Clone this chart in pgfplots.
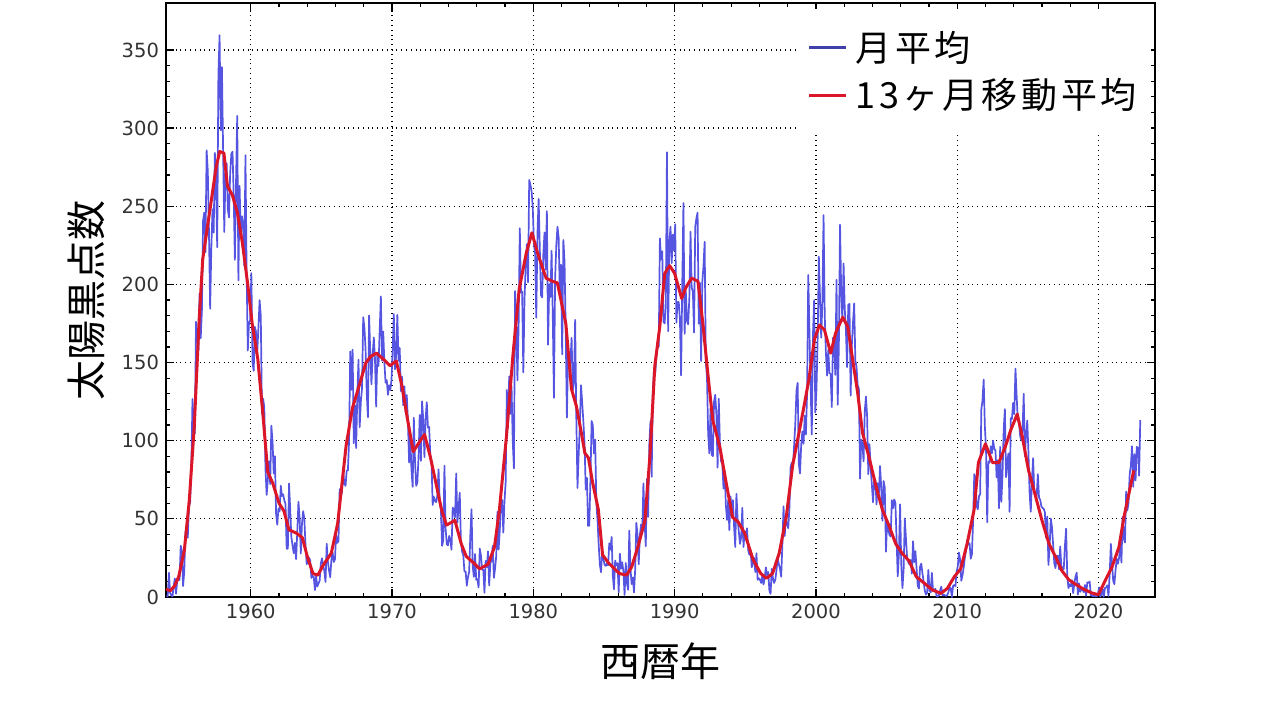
\documentclass[border=0pt]{standalone}
\usepackage{pgfplots}
\pgfplotsset{compat=1.18}
\usepackage{pgfplotstable}
\usepackage{fontspec}
\setmainfont{DejaVu Sans}
\newfontfamily\jp{Noto Sans CJK JP}
\newfontfamily\jpls[LetterSpace=10]{Noto Sans CJK JP}
\definecolor{mblue}{RGB}{85,85,225}
\definecolor{mred}{RGB}{218,22,40}
\definecolor{tickgray}{RGB}{50,50,50}

% monthly mean sunspot number, Jan 1954 - Dec 2022 (12 values per line)
\pgfplotstableread[row sep=\\, header=false]{
0.3\\0.7\\15.5\\2.6\\1.1\\0.3\\6.8\\11.9\\2.1\\9.9\\13.1\\10.8\\
32.8\\29.5\\7.0\\16.0\\41.0\\45.0\\37.9\\57.8\\60.6\\83.1\\126.7\\109.2\\
104.5\\176.1\\168.1\\157.2\\194.0\\165.6\\183.3\\240.8\\245.9\\220.5\\285.8\\272.8\\
233.6\\184.4\\222.9\\248.1\\233.1\\284.2\\265.1\\223.7\\333.9\\359.4\\298.6\\339.0\\
286.7\\233.5\\270.0\\277.5\\248.2\\242.8\\271.0\\283.5\\284.9\\257.0\\215.7\\265.6\\
307.8\\202.6\\263.0\\231.2\\243.6\\238.9\\211.8\\282.6\\205.6\\157.7\\175.6\\177.0\\
207.2\\150.1\\144.7\\172.8\\169.4\\156.0\\172.3\\189.9\\180.1\\117.2\\126.9\\121.2\\
82.0\\65.3\\75.0\\86.9\\72.2\\109.6\\99.4\\79.0\\90.1\\53.4\\46.2\\56.5\\
54.8\\71.2\\64.6\\65.7\\61.9\\59.5\\30.9\\30.9\\72.6\\55.9\\38.1\\32.9\\
28.0\\34.6\\24.2\\41.5\\60.9\\50.8\\27.8\\47.0\\54.9\\50.0\\33.1\\21.1\\
21.7\\25.1\\23.4\\12.2\\13.5\\12.9\\4.4\\13.2\\6.7\\8.6\\10.5\\21.4\\
24.8\\20.1\\16.6\\9.6\\34.1\\22.5\\16.9\\12.6\\23.8\\28.5\\22.4\\24.1\\
39.9\\34.6\\35.8\\69.0\\64.1\\67.5\\80.3\\72.5\\71.1\\81.0\\81.0\\99.7\\
157.0\\132.5\\158.3\\98.4\\122.5\\95.3\\129.6\\151.8\\108.7\\124.9\\133.5\\179.0\\
172.5\\158.5\\130.6\\115.0\\180.1\\156.2\\136.1\\154.8\\166.0\\152.5\\121.8\\155.5\\
147.8\\170.6\\192.3\\151.2\\169.9\\150.1\\137.1\\138.8\\129.3\\135.5\\132.4\\138.6\\
157.9\\181.0\\145.7\\155.1\\180.5\\151.2\\159.3\\131.7\\140.9\\122.6\\134.8\\118.2\\
129.3\\111.9\\86.0\\101.7\\81.4\\70.5\\114.7\\86.9\\71.1\\73.2\\89.5\\116.4\\
87.1\\125.2\\113.4\\89.5\\114.0\\124.6\\108.3\\108.8\\90.6\\86.8\\58.9\\64.1\\
61.5\\60.7\\65.1\\81.7\\60.0\\55.9\\32.7\\36.3\\84.0\\43.5\\33.8\\33.0\\
39.1\\36.8\\30.2\\57.1\\55.9\\51.0\\79.0\\47.6\\56.9\\66.7\\35.4\\29.0\\
26.8\\16.3\\16.3\\7.2\\12.7\\16.1\\39.9\\56.2\\19.7\\12.9\\27.5\\11.0\\
11.5\\6.1\\31.0\\26.6\\17.6\\17.3\\2.7\\23.2\\19.1\\29.2\\7.4\\21.7\\
23.2\\32.7\\12.3\\18.3\\26.3\\54.5\\30.3\\42.6\\62.3\\62.0\\41.2\\61.2\\
73.5\\132.5\\108.3\\141.2\\117.1\\134.7\\99.7\\82.3\\195.7\\177.1\\138.6\\173.7\\
235.9\\194.7\\195.4\\143.7\\190.3\\211.7\\225.7\\201.4\\266.8\\263.7\\259.6\\249.6\\
226.0\\219.5\\178.7\\232.4\\254.7\\222.7\\193.0\\191.7\\219.5\\233.2\\209.4\\246.9\\
161.4\\200.1\\191.9\\221.5\\180.5\\127.4\\203.6\\224.7\\236.9\\230.0\\194.7\\212.5\\
155.2\\228.4\\214.7\\170.3\\114.8\\154.1\\148.1\\150.2\\165.8\\132.2\\136.9\\177.3\\
115.2\\69.7\\90.8\\110.2\\135.5\\124.4\\112.3\\98.1\\68.7\\76.2\\45.5\\45.6\\
75.1\\112.6\\110.1\\91.9\\100.7\\60.8\\49.3\\33.6\\20.7\\15.8\\30.1\\24.6\\
20.6\\19.9\\21.5\\20.3\\34.4\\30.3\\38.4\\13.9\\4.9\\23.3\\20.3\\21.6\\
3.0\\27.8\\18.1\\22.2\\16.4\\1.3\\21.7\\8.9\\4.6\\42.5\\18.2\\8.2\\
12.5\\2.9\\17.6\\47.5\\39.6\\20.9\\39.6\\46.4\\40.7\\72.7\\47.9\\32.5\\
75.5\\51.2\\97.5\\112.6\\76.9\\130.3\\145.7\\142.8\\153.7\\160.1\\160.1\\229.4\\
216.1\\221.2\\176.1\\175.0\\185.6\\284.5\\170.0\\226.3\\236.8\\213.6\\231.8\\221.8\\
238.5\\175.5\\188.7\\188.7\\177.8\\141.8\\200.9\\252.0\\168.4\\195.7\\176.7\\174.4\\
191.0\\233.7\\198.0\\195.3\\169.2\\236.7\\242.3\\245.9\\174.8\\201.0\\150.9\\201.4\\
211.5\\227.2\\150.4\\140.7\\104.1\\91.9\\120.8\\90.9\\90.1\\125.1\\129.4\\116.5\\
82.7\\126.9\\97.3\\86.7\\85.5\\69.4\\80.7\\59.1\\49.3\\62.0\\42.7\\64.3\\
52\\62\\45\\32\\66\\50\\42\\34\\38\\57\\32\\42\\
38\\44\\30\\27\\30\\19\\22\\25\\16\\28\\11\\12\\
11\\9\\14\\8\\12\\19\\14\\16\\4\\2\\18\\12\\
9\\11\\17\\25\\21\\18\\13\\33\\58\\39\\50\\47\\
44\\57\\83\\86\\84\\97\\111\\132\\137\\85\\79\\97\\
106\\98\\116\\104\\130\\206\\171\\135\\104\\168\\190\\118\\
133.1\\165.7\\217.7\\191.5\\165.9\\188.0\\244.3\\180.5\\156.0\\141.6\\158.1\\143.3\\
142.6\\121.5\\165.8\\161.7\\142.1\\202.9\\123.0\\161.5\\238.2\\194.1\\176.6\\213.4\\
184.6\\170.2\\147.1\\186.9\\187.5\\128.8\\161.0\\175.6\\187.9\\151.2\\147.2\\135.3\\
133.5\\75.7\\100.7\\97.9\\86.8\\118.7\\128.3\\115.4\\78.5\\97.8\\82.9\\72.2\\
60.6\\74.6\\74.8\\59.2\\72.8\\66.5\\83.8\\69.7\\48.8\\74.2\\70.1\\28.9\\
48.1\\43.5\\39.6\\38.7\\61.9\\56.8\\62.4\\60.5\\37.2\\13.2\\27.5\\59.3\\
20.9\\5.7\\17.3\\50.3\\37.2\\24.5\\22.2\\20.8\\23.7\\14.9\\35.7\\22.3\\
29.3\\18.4\\7.2\\5.4\\19.5\\21.3\\15.1\\9.8\\4.0\\1.5\\2.8\\17.3\\
4.1\\2.9\\15.5\\3.6\\4.6\\5.2\\0.6\\0.3\\1.2\\4.2\\6.6\\1.0\\
1.3\\1.2\\0.6\\1.2\\2.9\\6.3\\5.5\\0.0\\7.1\\7.7\\6.9\\16.3\\
19.5\\28.5\\24.0\\10.4\\13.9\\18.8\\25.2\\29.6\\36.4\\33.6\\34.4\\24.5\\
27.3\\48.3\\78.6\\76.1\\58.2\\56.1\\64.5\\65.8\\120.1\\125.7\\139.1\\109.3\\
94.4\\47.8\\86.6\\85.9\\96.5\\92.0\\100.1\\94.8\\93.7\\76.5\\87.6\\56.8\\
96.1\\60.9\\78.3\\107.3\\120.2\\76.7\\86.2\\91.8\\54.5\\114.4\\113.9\\124.2\\
117.0\\146.1\\128.7\\112.5\\112.5\\102.9\\100.2\\106.9\\130.0\\90.0\\103.6\\112.9\\
93.0\\66.7\\54.5\\75.3\\88.8\\66.5\\65.8\\64.4\\78.6\\63.6\\62.2\\58.0\\
57.0\\56.4\\54.1\\37.9\\51.5\\20.5\\32.4\\50.2\\44.6\\33.4\\21.4\\18.5\\
26.1\\26.4\\17.7\\32.3\\18.9\\19.2\\17.8\\32.6\\43.7\\13.2\\5.7\\8.2\\
6.8\\10.7\\2.5\\8.9\\13.1\\15.6\\1.6\\8.7\\3.3\\4.9\\4.9\\3.1\\
7.7\\0.8\\9.4\\9.1\\9.9\\1.2\\0.9\\0.5\\1.1\\0.4\\0.5\\1.5\\
6.2\\0.2\\1.5\\5.2\\0.2\\5.8\\6.1\\7.5\\0.6\\14.4\\34.0\\21.8\\
10.4\\8.2\\17.2\\24.5\\21.2\\25.0\\34.3\\22.0\\51.3\\37.4\\34.8\\67.5\\
55.3\\59.9\\78.5\\84.1\\96.5\\70.5\\91.4\\74.6\\96.0\\95.5\\77.6\\113.1\\
}\monthly

% 13-month running mean
\pgfplotstableread{
x y
1954.0 5
1954.3 4
1954.6 7
1954.9 13
1955.3 30
1955.65 62
1956.0 109
1956.35 178
1956.6 216
1957.05 244
1957.55 275
1957.8 285
1958.1 284
1958.35 263
1958.7 257
1959.05 246
1959.4 227
1959.8 199
1960.1 175
1960.5 152
1960.85 118
1961.2 80
1961.55 73
1962.0 60
1962.35 55
1962.7 43
1963.2 41
1963.65 38
1964.0 26
1964.4 15
1964.75 14
1965.1 20
1965.7 28
1966.15 47
1966.75 97
1967.2 121
1967.7 136
1968.15 150
1968.5 154
1968.9 156
1969.4 152
1969.85 148
1970.3 151
1970.7 135
1971.05 116
1971.5 93
1971.85 98
1972.3 104
1972.7 90
1973.15 71
1973.5 56
1973.85 46
1974.45 49
1974.9 34
1975.25 26
1975.75 22
1976.2 18
1976.8 21
1977.25 32
1977.6 56
1978.1 103
1978.55 154
1979.0 197
1979.5 220
1979.9 233
1980.3 220
1980.9 204
1981.35 202
1981.7 201
1982.3 175
1982.7 133
1983.05 122
1983.4 105
1983.65 92
1983.9 89
1984.2 73
1984.6 56
1984.9 27
1985.3 22
1985.75 18
1986.1 15
1986.6 14
1986.95 19
1987.4 32
1987.9 49
1988.25 90
1988.6 148
1988.95 173
1989.3 207
1989.65 212
1990.0 207
1990.5 191
1990.8 198
1991.2 204
1991.65 202
1992.0 175
1992.35 143
1992.7 113
1993.2 96
1993.65 73
1994.1 51
1994.5 48
1994.95 41
1995.55 24
1996.1 15
1996.5 12
1996.93 15
1997.4 28
1997.9 51
1998.35 84
1998.8 105
1999.2 124
1999.5 139
1999.9 165
2000.25 174
2000.6 171
2001.05 156
2001.4 169
2001.9 179
2002.25 173
2002.6 152
2002.95 131
2003.3 105
2003.8 88
2004.25 71
2004.7 56
2005.2 45
2005.65 34
2006.1 28
2006.6 23
2007.1 13
2007.65 9
2008.25 4.5
2008.85 2.3
2009.3 5.5
2009.8 13
2010.25 18
2010.7 34
2011.2 56
2011.5 86
2012.0 98
2012.5 86
2012.95 86
2013.4 96
2013.8 107
2014.25 117
2014.6 103
2015.05 81
2015.5 66
2016.0 49
2016.5 34
2016.95 26
2017.4 17
2017.9 11
2018.4 8
2018.95 5
2019.55 2.5
2020.0 1.5
2020.5 11
2020.95 19
2021.45 32
2021.8 51
2022.15 66
2022.5 81
}\smoothed

\begin{document}
\begin{tikzpicture}
\begin{axis}[
  scale only axis, width=494.5pt, height=297pt,
  xmin=1954, xmax=2024, ymin=0, ymax=380,
  xtick={1960,1970,...,2020}, ytick={0,50,...,350},
  minor x tick num=4, minor y tick num=4,
  tick align=inside, major tick length=4pt, minor tick length=2pt,
  tick style={black, line width=0.6pt},
  xmajorgrids, ymajorgrids,
  major grid style={black, dotted, line width=0.6pt},
  axis line style={line width=0.9pt},
  ticklabel style={font=\fontsize{9.75}{11}\selectfont, text=tickgray},
  /pgf/number format/assume math mode=true,
  /pgf/number format/1000 sep={},
  xlabel={\jp 西暦年}, ylabel={\jp 太陽黒点数},
  label style={font=\fontsize{20}{24}\selectfont},
  xlabel style={at={(axis description cs:0.5,-0.1077)}, anchor=center},
  ylabel style={at={(axis description cs:-0.0809,0.5)}, anchor=center},
  legend style={at={(axis description cs:0.996,0.99)}, anchor=north east,
    draw=none, fill=white, font=\jpls\fontsize{18}{21}\selectfont,
    inner xsep=5pt, inner ysep=9pt, row sep=3pt, cells={anchor=west},
    /tikz/every odd column/.append style={column sep=2pt}},
  legend image code/.code={\draw[#1, line width=1.5pt] (0pt,0pt) -- (18.5pt,0pt);},
]
\addplot[mblue, line width=0.85pt, line join=round, legend image post style={color=mblue!75!black}] table[x expr={1954+(\coordindex+0.5)/12}, y index=0] {\monthly};
\addlegendentry{月平均}
\addplot[mred, line width=1.5pt, line join=round] table[x=x, y=y] {\smoothed};
\addlegendentry{13ヶ月移動平均}
\end{axis}
\pgfresetboundingbox
\path[use as bounding box] (-83pt,-56pt) rectangle (551.5pt,298.5pt);
\end{tikzpicture}
\end{document}
